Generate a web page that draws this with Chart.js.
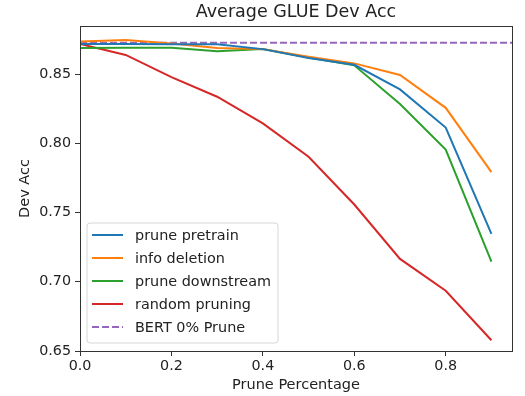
<!DOCTYPE html>
<html>
<head>
<meta charset="utf-8">
<script src="https://cdn.jsdelivr.net/npm/chart.js@4"></script>
<style>
  html, body { margin: 0; padding: 0; background: #fff; }
  #wrap { width: 525px; height: 396px; position: relative; }
</style>
</head>
<body>
<div id="wrap"><canvas id="chart-glue"></canvas></div>
<script>
// prune ratios and average GLUE dev accuracy
var prunePct = [0.0, 0.1, 0.2, 0.3, 0.4, 0.5, 0.6, 0.7, 0.8, 0.9];
var prunePretrain   = [0.8717, 0.8717, 0.8716, 0.8715, 0.8680, 0.8616, 0.8567, 0.8389, 0.8114, 0.7346];
var infoDeletion    = [0.8735, 0.8745, 0.8720, 0.8688, 0.8680, 0.8625, 0.8577, 0.8493, 0.8256, 0.7792];
var pruneDownstream = [0.8688, 0.8690, 0.8690, 0.8664, 0.8680, 0.8620, 0.8563, 0.8283, 0.7954, 0.7145];
var randomPruning   = [0.8717, 0.8638, 0.8478, 0.8336, 0.8144, 0.7903, 0.7558, 0.7165, 0.6935, 0.6578];
var bertBaseline = 0.8726;
var xTicks = [0.0, 0.2, 0.4, 0.6, 0.8];
var yTicks = [0.65, 0.70, 0.75, 0.80, 0.85];
var xMax = 0.945, yMin = 0.65, yMax = 0.8847;

function pts(vals) {
  return prunePct.map(function (x, i) { return { x: x, y: vals[i] }; });
}

var FONT = 'DejaVu Sans';

// matplotlib-style legend box in the lower left of the axes
var boxLegend = {
  id: 'boxLegend',
  afterDraw: function (chart) {
    var c = chart.ctx;
    var x = 87, y = 223, w = 191, h = 120, r = 3;
    c.save();
    c.beginPath();
    c.moveTo(x + r, y);
    c.arcTo(x + w, y, x + w, y + h, r);
    c.arcTo(x + w, y + h, x, y + h, r);
    c.arcTo(x, y + h, x, y, r);
    c.arcTo(x, y, x + w, y, r);
    c.closePath();
    c.fillStyle = 'rgba(255,255,255,0.8)';
    c.fill();
    c.strokeStyle = '#d6d6d6';
    c.lineWidth = 1;
    c.stroke();
    c.font = '14.4px "' + FONT + '"';
    c.textBaseline = 'middle';
    chart.data.datasets.forEach(function (ds, i) {
      var ry = 235 + i * 23;
      c.beginPath();
      c.setLineDash(ds.borderDash || []);
      c.strokeStyle = ds.borderColor;
      c.lineWidth = 2;
      c.moveTo(92, ry);
      c.lineTo(123, ry);
      c.stroke();
      c.setLineDash([]);
      c.fillStyle = '#222';
      c.fillText(ds.label, 135, ry + 1);
    });
    c.restore();
  }
};

// full frame around the axes
var frame = {
  id: 'frame',
  afterDraw: function (chart) {
    var a = chart.chartArea, c = chart.ctx;
    c.save();
    c.strokeStyle = '#333';
    c.lineWidth = 1;
    c.strokeRect(Math.round(a.left) + 0.5, Math.round(a.top) + 0.5,
                 Math.round(a.right - a.left), Math.round(a.bottom - a.top));
    c.restore();
  }
};

var ctx = document.getElementById("chart-glue").getContext('2d');
var myChart = new Chart(ctx, {
  type: 'line',
  data: {
    datasets: [
      { label: 'prune pretrain', data: pts(prunePretrain), borderColor: '#1f77b4' },
      { label: 'info deletion', data: pts(infoDeletion), borderColor: '#ff7f0e' },
      { label: 'prune downstream', data: pts(pruneDownstream), borderColor: '#2ca02c' },
      { label: 'random pruning', data: pts(randomPruning), borderColor: '#d62728' },
      { label: 'BERT 0% Prune', data: [{ x: 0, y: bertBaseline }, { x: xMax, y: bertBaseline }],
        borderColor: '#9467bd', borderDash: [7, 3] }
    ]
  },
  options: {
    responsive: true,
    maintainAspectRatio: false,
    animation: false,
    devicePixelRatio: 1,
    layout: { padding: { left: 0, right: 13, top: 0, bottom: 0 } },
    elements: {
      line: { borderWidth: 2, tension: 0, fill: false },
      point: { radius: 0, hoverRadius: 0 }
    },
    plugins: {
      legend: { display: false },
      tooltip: { enabled: false },
      title: {
        display: true,
        fullSize: false,
        text: 'Average GLUE Dev Acc',
        color: '#222',
        font: { family: FONT, size: 17.5, weight: 'normal', lineHeight: 1.2 },
        padding: { top: 2, bottom: 3 }
      }
    },
    scales: {
      x: {
        type: 'linear',
        min: 0,
        max: xMax,
        afterBuildTicks: function (s) { s.ticks = xTicks.map(function (v) { return { value: v }; }); },
        afterFit: function (s) { s.height = 45; },
        ticks: {
          color: '#222', padding: 2,
          font: { family: FONT, size: 14.3 },
          callback: function (v) { return Number(v).toFixed(1); },
          maxRotation: 0, autoSkip: false
        },
        grid: { drawOnChartArea: false, drawTicks: true, tickLength: 5, color: '#333' },
        border: { display: true, color: '#333' },
        title: {
          display: true, text: 'Prune Percentage', color: '#222',
          font: { family: FONT, size: 14.5 }, padding: { top: 0, bottom: 2 }
        }
      },
      y: {
        min: yMin,
        max: yMax,
        afterBuildTicks: function (s) { s.ticks = yTicks.map(function (v) { return { value: v }; }); },
        afterFit: function (s) { s.width = 80; },
        ticks: {
          color: '#222', padding: 4,
          font: { family: FONT, size: 14.3 },
          callback: function (v) { return Number(v).toFixed(2); },
          autoSkip: false
        },
        grid: { drawOnChartArea: false, drawTicks: true, tickLength: 5, color: '#333' },
        border: { display: true, color: '#333' },
        title: {
          display: true, text: 'Dev Acc', color: '#222',
          font: { family: FONT, size: 14.5 }, padding: { top: 17, bottom: 0 }
        }
      }
    }
  },
  plugins: [boxLegend, frame]
});
</script>
</body>
</html>
